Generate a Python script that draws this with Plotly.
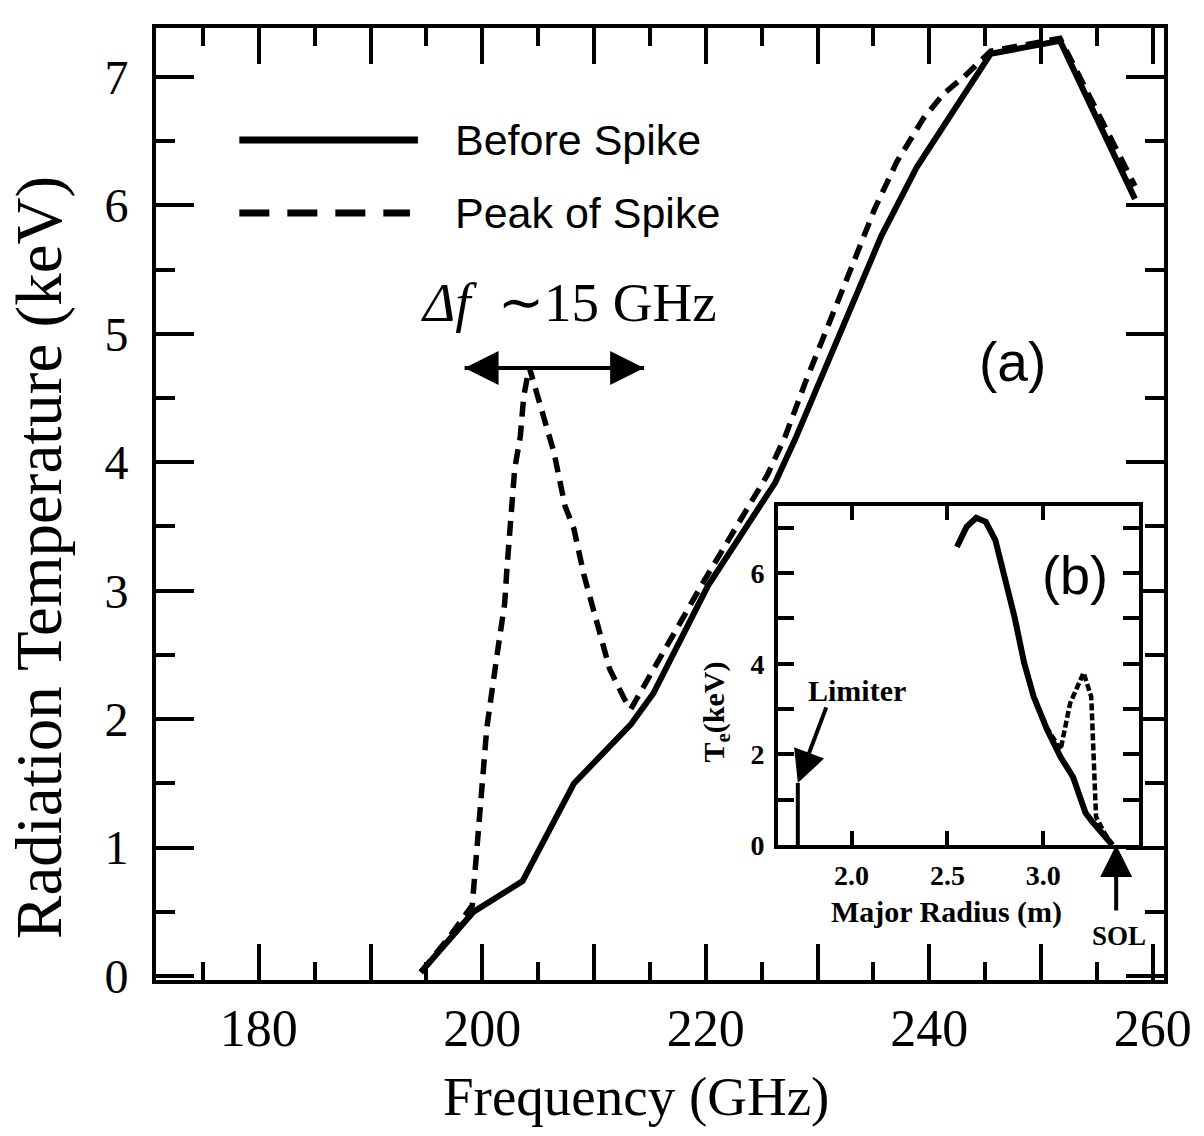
import plotly.graph_objects as go

# ---------------- data ----------------
freq_before = [194.5, 199.2, 203.6, 208.2, 213.3, 215.3, 220.2, 226.2, 228.0,
               230.9, 235.7, 238.9, 245.5, 251.7, 258.4]
temp_before = [0.03, 0.50, 0.74, 1.50, 1.96, 2.20, 3.04, 3.84, 4.18,
               4.78, 5.76, 6.30, 7.18, 7.28, 6.05]

freq_spike = [194.5, 197.0, 199.1, 199.6, 200.4, 201.3, 202.0, 202.2, 202.5,
              202.9, 203.4, 203.7, 204.2, 205.1, 206.4, 207.4, 208.2, 209.1,
              210.2, 211.4, 212.7, 213.3, 215.0, 217.0, 220.0, 225.5, 227.1,
              228.9, 230.6, 232.4, 233.6, 235.1, 237.1, 239.5, 241.3, 243.1,
              244.8, 245.5, 251.7, 258.4]
temp_spike = [0.03, 0.30, 0.55, 1.07, 1.93, 2.49, 2.90, 3.17, 3.56,
              3.95, 4.20, 4.51, 4.74, 4.47, 4.08, 3.66, 3.48, 3.12,
              2.78, 2.39, 2.16, 2.08, 2.34, 2.65, 3.10, 3.90, 4.20,
              4.62, 4.98, 5.36, 5.64, 5.97, 6.34, 6.68, 6.87, 7.00,
              7.15, 7.20, 7.30, 6.15]

x_tickvals = [180, 190, 200, 210, 220, 230, 240, 250, 260]
x_ticktext = ["180", "", "200", "", "220", "", "240", "", "260"]
y_tickvals = [0, 1, 2, 3, 4, 5, 6, 7]
y_ticktext = ["0", "1", "2", "3", "4", "5", "6", "7"]

# inset (b)
radius_before = [2.55, 2.60, 2.65, 2.70, 2.75, 2.80, 2.85, 2.90, 2.95, 3.02,
                 3.09, 3.155, 3.19, 3.22, 3.26, 3.31, 3.36]
te_before = [6.58, 7.02, 7.22, 7.13, 6.73, 5.92, 5.03, 4.02, 3.27, 2.54,
             1.94, 1.50, 1.05, 0.71, 0.49, 0.26, 0.0]
radius_spike = [2.55, 2.60, 2.65, 2.70, 2.75, 2.80, 2.85, 2.90, 2.95, 3.02,
                3.09, 3.14, 3.18, 3.21, 3.25, 3.275, 3.32, 3.36]
te_spike = [6.58, 7.02, 7.22, 7.13, 6.73, 5.92, 5.03, 4.02, 3.27, 2.58,
            2.10, 3.13, 3.55, 3.80, 3.27, 0.62, 0.26, 0.0]
limiter_r = [1.72, 1.72]
limiter_te = [0.0, 1.37]
inset_x_tickvals = [2.0, 2.5, 3.0]
inset_x_ticktext = ["2.0", "2.5", "3.0"]
inset_y_tickvals = [0, 1, 2, 3, 4, 5, 6, 7]
inset_y_ticktext = ["0", "", "2", "", "4", "", "6", ""]

# ---------------- layout geometry ----------------
W, H = 1204, 1136
L, R, T, B = 156, 1172, 28, 980  # plot area in pixels
PW, PH = R - L, B - T


def px_x(p):
    return (p - L) / PW


def px_y(p):
    return (B - p) / PH


SERIF = "Liberation Serif, Times New Roman, serif"
SANS = "Liberation Sans, Arial, Helvetica, sans-serif"

fig = go.Figure()

fig.add_trace(go.Scatter(x=freq_before, y=temp_before, mode="lines",
                         line=dict(color="black", width=6),
                         showlegend=False, xaxis="x", yaxis="y"))
fig.add_trace(go.Scatter(x=freq_spike, y=temp_spike, mode="lines",
                         line=dict(color="black", width=5.5, dash="15px,9px"),
                         showlegend=False, xaxis="x", yaxis="y"))

# inset traces
fig.add_trace(go.Scatter(x=radius_spike, y=te_spike, mode="lines",
                         line=dict(color="black", width=4.5, dash="7px,3px"),
                         showlegend=False, xaxis="x2", yaxis="y2"))
fig.add_trace(go.Scatter(x=radius_before, y=te_before, mode="lines",
                         line=dict(color="black", width=6),
                         showlegend=False, xaxis="x2", yaxis="y2"))
fig.add_trace(go.Scatter(x=limiter_r, y=limiter_te, mode="lines",
                         line=dict(color="black", width=4),
                         showlegend=False, xaxis="x2", yaxis="y2"))

axis_common = dict(showline=True, linecolor="black", linewidth=4,
                   mirror="ticks", ticks="inside", tickcolor="black",
                   showgrid=False, zeroline=False)

fig.update_layout(
    width=W, height=H,
    margin=dict(l=L, r=W - R, t=T, b=H - B),
    paper_bgcolor="white", plot_bgcolor="white",
    showlegend=False,
    xaxis=dict(range=[170.8, 261.0], tickvals=x_tickvals, ticktext=x_ticktext,
               ticklen=36, tickwidth=4, ticklabelstandoff=0,
               tickfont=dict(family=SERIF, size=52, color="black"),
               minor=dict(dtick=5, tick0=0, ticks="inside", ticklen=18,
                          tickwidth=4, tickcolor="black", showgrid=False),
               **axis_common),
    yaxis=dict(range=[-0.03, 7.38], tickvals=y_tickvals, ticktext=y_ticktext,
               ticklen=38, tickwidth=4, ticklabelstandoff=14,
               tickfont=dict(family=SERIF, size=48, color="black"),
               minor=dict(dtick=0.5, tick0=0, ticks="inside", ticklen=19,
                          tickwidth=4, tickcolor="black", showgrid=False),
               **axis_common),
    xaxis2=dict(domain=[px_x(783), px_x(1147)], anchor="y2",
                range=[1.617, 3.50], tickvals=inset_x_tickvals,
                ticktext=inset_x_ticktext, ticklen=14, tickwidth=4,
                ticklabelstandoff=2,
                tickfont=dict(family=SERIF, size=28, color="black", weight="bold"),
                **axis_common),
    yaxis2=dict(domain=[px_y(845), px_y(506)], anchor="x2",
                range=[0, 7.48], tickvals=inset_y_tickvals,
                ticktext=inset_y_ticktext, ticklen=16, tickwidth=4,
                ticklabelstandoff=4,
                tickfont=dict(family=SERIF, size=28, color="black", weight="bold"),
                **axis_common),
)


def label(text, xp, yp, size, family=SERIF, bold=False, angle=0,
          xanchor="center"):
    f = dict(family=family, size=size, color="black")
    if bold:
        f["weight"] = "bold"
    return dict(text=text, x=px_x(xp), y=px_y(yp), xref="paper",
                yref="paper", showarrow=False, xanchor=xanchor,
                yanchor="middle", textangle=angle, font=f)


ann = []
# axis titles
ann.append(label("Frequency (GHz)", 640, 1096, 55))
ann.append(label("Radiation Temperature (keV)", 38, 557, 65, angle=-90))
# legend texts
ann.append(label("Before Spike", 455, 140, 43, family=SANS, xanchor="left"))
ann.append(label("Peak of Spike", 455, 213, 43, family=SANS, xanchor="left"))
# delta f label
ann.append(label("<i>Δf</i>  ∼15 GHz", 572, 302, 55))
# double arrow (head at left end, then head at right end)
ann.append(dict(x=px_x(467), y=px_y(368), ax=181, ay=0,
                xref="paper", yref="paper", axref="pixel", ayref="pixel",
                showarrow=True, arrowhead=2, arrowsize=1.7, arrowwidth=4,
                arrowcolor="black", text=""))
ann.append(dict(x=px_x(648), y=px_y(368), ax=-181, ay=0,
                xref="paper", yref="paper", axref="pixel", ayref="pixel",
                showarrow=True, arrowhead=2, arrowsize=1.7, arrowwidth=4,
                arrowcolor="black", text=""))
# (a), (b)
ann.append(label("(a)", 1019, 362, 55, family=SANS))
ann.append(label("(b)", 1082, 575, 54, family=SANS))
# inset titles
ann.append(label("Major Radius (m)", 953, 912, 30, bold=True))
ann.append(label("T<sub>e</sub>(keV)", 720, 712, 30, bold=True, angle=-90))
# Limiter
ann.append(label("Limiter", 863, 690, 30, bold=True))
ann.append(dict(x=1.72, y=1.37, xref="x2", yref="y2", ax=29, ay=-77,
                axref="pixel", ayref="pixel", showarrow=True,
                arrowhead=2, arrowsize=1.6, arrowwidth=4, arrowcolor="black",
                text=""))
# SOL
ann.append(dict(x=3.38, y=0.0, xref="x2", yref="y2", ax=0, ay=67,
                axref="pixel", ayref="pixel", showarrow=True,
                arrowhead=2, arrowsize=1.6, arrowwidth=4, arrowcolor="black",
                text=""))
ann.append(label("SOL", 1127, 936, 27, bold=True))

fig.update_layout(annotations=ann)

# legend lines drawn as shapes in paper space
fig.add_shape(type="line", xref="paper", yref="paper",
              x0=px_x(240), x1=px_x(420), y0=px_y(140), y1=px_y(140),
              line=dict(color="black", width=7))
fig.add_shape(type="line", xref="paper", yref="paper",
              x0=px_x(240), x1=px_x(412), y0=px_y(213), y1=px_y(213),
              line=dict(color="black", width=7, dash="30px,18px"))

fig.write_html("out.html")
